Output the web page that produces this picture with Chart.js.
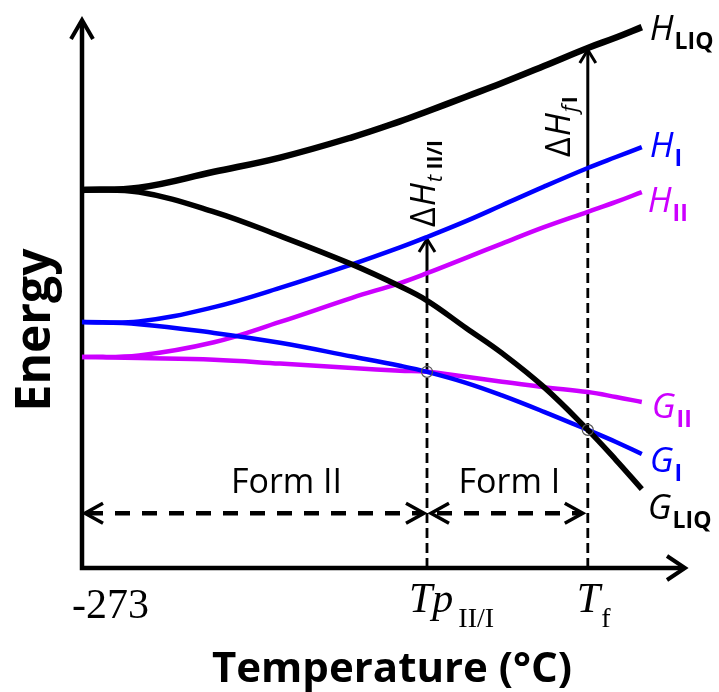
<!DOCTYPE html>
<html lang="en">
<head>
<meta charset="utf-8">
<title>Energy vs Temperature</title>
<script src="https://cdn.jsdelivr.net/npm/chart.js@4.4.0/dist/chart.umd.min.js"></script>
<style>
  html, body { margin: 0; padding: 0; background: #fff; overflow: hidden; }
  #wrap { width: 719px; height: 692px; }
</style>
</head>
<body>
<div id="wrap"><canvas id="chart" width="719" height="692"></canvas></div>
<script>
// temperature axis in arbitrary units (0 = -273 °C)
const temps = [0, 9.5, 22, 33, 45, 53, 57.5, 64, 70, 77, 84.3, 89, 93.3];
// energy curves (arbitrary units)
const hLiq = [69.0, 69.4, 72.3, 74.9, 78.6, 81.5, 83.3, 86.0, 88.5, 91.6, 94.9, 96.8, 98.7];
const gLiq = [69.0, 68.6, 65.0, 60.6, 55.4, 51.4, 48.8, 43.8, 39.2, 33.0, 25.2, 19.7, 14.4];
const hI   = [44.9, 45.0, 47.6, 51.1, 55.4, 58.5, 60.4, 63.3, 66.2, 69.6, 73.0, 75.0, 76.8];
const gI   = [44.9, 44.5, 42.9, 41.1, 38.6, 36.9, 35.8, 33.8, 31.5, 28.5, 25.2, 23.0, 20.8];
const hII  = [38.5, 38.8, 41.2, 44.9, 49.3, 52.0, 53.8, 56.6, 59.2, 62.2, 65.0, 66.8, 68.6];
const gII  = [38.5, 38.3, 38.0, 37.3, 36.5, 36.0, 35.8, 34.9, 34.0, 33.0, 32.1, 31.2, 30.3];

// index of the transition temperature and the melting point in temps
const tpIdx = 6;
const tfIdx = 10;
const formLevel = 10;   // energy level of the Form II / Form I range arrows

const BLUE = "#0000ff";
const MAGENTA = "#cc00ff";

const pts = (ys) => temps.map((t, i) => ({ x: t, y: ys[i] }));

const curves = [
  { label: "H_LIQ", data: hLiq, color: "#000", width: 6.5, sub: "LIQ", letter: "H", dx: 8, dy: 13 },
  { label: "G_LIQ", data: gLiq, color: "#000", width: 5.5, sub: "LIQ", letter: "G", dx: 6, dy: 30 },
  { label: "H_I", data: hI, color: BLUE, width: 4.5, sub: "I", letter: "H", dx: 8, dy: 10 },
  { label: "G_I", data: gI, color: BLUE, width: 4.5, sub: "I", letter: "G", dx: 8, dy: 18 },
  { label: "H_II", data: hII, color: MAGENTA, width: 4.5, sub: "II", letter: "H", dx: 6, dy: 20 },
  { label: "G_II", data: gII, color: MAGENTA, width: 4.5, sub: "II", letter: "G", dx: 10, dy: 16 }
];

// draw text pieces side by side (for subscripts)
function rich(ctx, x, y, parts) {
  let cx = x;
  for (const p of parts) {
    ctx.font = p.font;
    ctx.fillStyle = p.color || ctx.fillStyle;
    ctx.fillText(p.t, cx + (p.dx || 0), y + (p.dy || 0));
    cx += ctx.measureText(p.t).width + (p.dx || 0);
  }
}

function chevron(ctx, x, y, dx, dy, len, half) {
  // dx,dy = unit direction the arrow points to
  const bx = x - dx * len, by = y - dy * len;
  ctx.beginPath();
  ctx.moveTo(bx - dy * half, by + dx * half);
  ctx.lineTo(x, y);
  ctx.lineTo(bx + dy * half, by - dx * half);
  ctx.stroke();
}

const decor = {
  id: "decor",
  beforeDatasetsDraw(chart) {
    const ctx = chart.ctx;
    const xs = chart.scales.x, ys = chart.scales.y;
    const x0 = xs.getPixelForValue(0), y0 = ys.getPixelForValue(0);
    ctx.save();
    ctx.strokeStyle = "#000";
    ctx.lineCap = "butt";
    ctx.lineJoin = "miter";

    // dashed guide lines at Tp and Tf
    ctx.lineWidth = 2.8;
    ctx.setLineDash([10, 5]);
    const tpX = xs.getPixelForValue(temps[tpIdx]);
    const tfX = xs.getPixelForValue(temps[tfIdx]);
    ctx.beginPath();
    ctx.moveTo(tpX, y0); ctx.lineTo(tpX, ys.getPixelForValue(hII[tpIdx]));
    ctx.moveTo(tfX, y0); ctx.lineTo(tfX, ys.getPixelForValue(hI[tfIdx]));
    ctx.stroke();
    ctx.setLineDash([]);

    // enthalpy arrows
    ctx.lineWidth = 3;
    const a1 = ys.getPixelForValue(hI[tpIdx]), a2 = ys.getPixelForValue(hLiq[tfIdx]);
    ctx.beginPath();
    ctx.moveTo(tpX, ys.getPixelForValue(hII[tpIdx])); ctx.lineTo(tpX, a1 + 2);
    ctx.moveTo(tfX, ys.getPixelForValue(hI[tfIdx])); ctx.lineTo(tfX, a2 + 2);
    ctx.stroke();
    chevron(ctx, tpX, a1 + 2, 0, -1, 13, 8);
    chevron(ctx, tfX, a2 + 2, 0, -1, 13, 8);

    // Form range arrows
    const fy = ys.getPixelForValue(formLevel);
    ctx.lineWidth = 4.5;
    ctx.setLineDash([15, 12]);
    ctx.beginPath();
    ctx.moveTo(x0 + 6, fy); ctx.lineTo(tpX - 6, fy);
    ctx.moveTo(tpX + 10, fy); ctx.lineTo(tfX - 6, fy);
    ctx.stroke();
    ctx.setLineDash([]);
    ctx.lineWidth = 3.5;
    chevron(ctx, x0 + 3, fy, -1, 0, 18, 10);
    chevron(ctx, tpX - 3, fy, 1, 0, 18, 10);
    chevron(ctx, tpX + 4, fy, -1, 0, 18, 10);
    chevron(ctx, tfX - 5, fy, 1, 0, 18, 10);

    // axes
    ctx.lineWidth = 4.5;
    ctx.beginPath();
    ctx.moveTo(x0, ys.top + 1);
    ctx.lineTo(x0, y0);
    ctx.lineTo(xs.right + 2, y0);
    ctx.stroke();
    ctx.lineWidth = 4;
    chevron(ctx, x0, ys.top, 0, -1, 19, 11);
    chevron(ctx, xs.right + 3, y0, 1, 0, 18, 12);
    ctx.restore();
  },
  afterDatasetsDraw(chart) {
    const ctx = chart.ctx;
    const xs = chart.scales.x, ys = chart.scales.y;
    const x0 = xs.getPixelForValue(0);
    const tpX = xs.getPixelForValue(temps[tpIdx]);
    const tfX = xs.getPixelForValue(temps[tfIdx]);
    ctx.save();

    // intersection markers
    ctx.strokeStyle = "#555";
    ctx.lineWidth = 1.2;
    [[tpX, ys.getPixelForValue(gI[tpIdx])], [tfX, ys.getPixelForValue(gI[tfIdx])]].forEach(([cx, cy]) => {
      ctx.beginPath();
      ctx.arc(cx, cy, 5.5, 0, Math.PI * 2);
      ctx.stroke();
    });

    // curve end labels
    ctx.textBaseline = "alphabetic";
    ctx.textAlign = "left";
    const last = temps.length - 1;
    curves.forEach(c => {
      const px = xs.getPixelForValue(temps[last]) + c.dx;
      const py = ys.getPixelForValue(c.data[last]) + c.dy;
      rich(ctx, px, py, [
        { t: c.letter, font: "italic 35px 'Open Sans'", color: c.color },
        { t: c.sub, font: "bold 23px 'Open Sans'", color: c.color, dx: 1, dy: 9 }
      ]);
    });

    // rotated delta-H labels
    ctx.fillStyle = "#000";
    ctx.save();
    ctx.translate(tpX + 8, ys.getPixelForValue(hI[tpIdx]) - 10);
    ctx.rotate(-Math.PI / 2);
    rich(ctx, 0, 0, [
      { t: "\u0394", font: "34px 'Open Sans'" },
      { t: "H", font: "italic 34px 'Open Sans'", dx: 1 },
      { t: "t", font: "italic 22px 'Open Sans'", dy: 7, dx: 1 },
      { t: " II/I", font: "bold 21px 'Open Sans'", dy: 7 }
    ]);
    ctx.restore();
    ctx.save();
    ctx.translate(tfX - 18, ys.getPixelForValue(hI[tfIdx]) - 11);
    ctx.rotate(-Math.PI / 2);
    rich(ctx, 0, 0, [
      { t: "\u0394", font: "34px 'Open Sans'" },
      { t: "H", font: "italic 34px 'Open Sans'", dx: 1 },
      { t: "f", font: "italic 22px 'Open Sans'", dy: 7, dx: 1 },
      { t: "I", font: "bold 21px 'Open Sans'", dy: 7, dx: 2 }
    ]);
    ctx.restore();

    // region labels
    const fy = ys.getPixelForValue(formLevel);
    ctx.font = "34px 'Open Sans'";
    ctx.textAlign = "center";
    ctx.fillText("Form II", (x0 + tpX) / 2 + 32, fy - 20);
    ctx.fillText("Form I", (tpX + tfX) / 2 + 2, fy - 20);

    // tick labels
    ctx.textAlign = "left";
    const tickY = ys.getPixelForValue(0) + 50;
    rich(ctx, x0 - 10, tickY, [{ t: "-273", font: "42px 'Liberation Serif'" }]);
    rich(ctx, tpX - 18, tickY - 6, [
      { t: "Tp", font: "italic 42px 'Liberation Serif'" },
      { t: "II/I", font: "28px 'Liberation Serif'", dx: 5, dy: 15 }
    ]);
    rich(ctx, tfX - 11, tickY - 6, [
      { t: "T", font: "italic 42px 'Liberation Serif'" },
      { t: "f", font: "28px 'Liberation Serif'", dx: 1, dy: 15 }
    ]);

    // axis titles
    ctx.font = "bold 42px 'Open Sans'";
    ctx.textAlign = "center";
    ctx.fillText("Temperature (\u00B0C)", 392, 682);
    ctx.save();
    ctx.translate(50, 330);
    ctx.rotate(-Math.PI / 2);
    ctx.font = "bold 48px 'Open Sans'";
    ctx.fillText("Energy", 0, 0);
    ctx.restore();

    ctx.restore();
  }
};

new Chart(document.getElementById("chart"), {
  type: "line",
  data: {
    datasets: curves.map(c => ({
      label: c.label,
      data: pts(c.data),
      borderColor: c.color,
      borderWidth: c.width,
      pointRadius: 0,
      tension: 0.4,
      borderCapStyle: "butt",
      borderJoinStyle: "round",
      fill: false,
      clip: false
    }))
  },
  options: {
    responsive: false,
    animation: false,
    layout: { padding: { left: 82, top: 20, right: 37, bottom: 124 } },
    scales: {
      x: { type: "linear", min: 0, max: 100, display: false },
      y: { min: 0, max: 100, display: false }
    },
    plugins: { legend: { display: false }, tooltip: { enabled: false } }
  },
  plugins: [decor]
});
</script>
</body>
</html>
